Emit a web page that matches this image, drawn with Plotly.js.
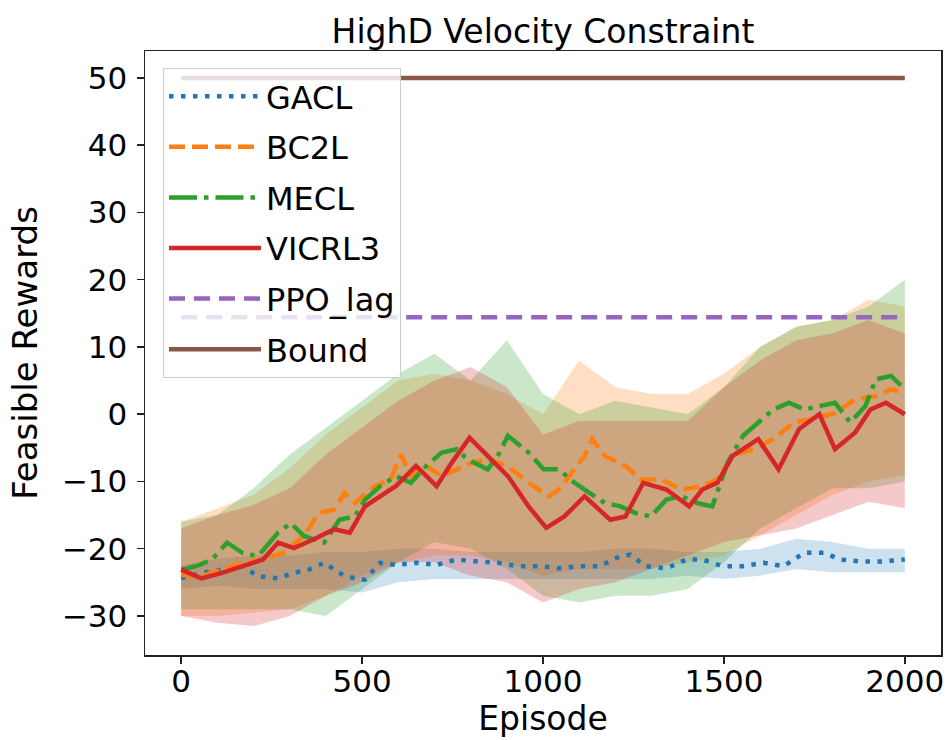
<!DOCTYPE html>
<html>
<head>
<meta charset="utf-8">
<script src="https://cdn.plot.ly/plotly-3.0.1.min.js"></script>
<style>html,body{margin:0;padding:0;background:#fff;}#chart{width:952px;height:740px;}</style>
</head>
<body>
<div id="chart"></div>
<script>
// ---- data ----
var gaclX = [0,56,113,169,212,268,311,353,395,452,508,550,593,649,706,762,819,875,932,988,1044,1101,1157,1214,1242,1284,1341,1397,1440,1496,1552,1609,1665,1722,1778,1821,1877,1933,2000];
var gaclY = [-24.4,-23.6,-23.1,-22.6,-24.1,-24.4,-23.6,-23.1,-22.1,-24.1,-24.6,-22.1,-22.4,-22.1,-22.4,-21.6,-21.9,-22.1,-22.6,-22.6,-22.9,-22.6,-22.6,-21.1,-20.9,-22.6,-22.9,-21.6,-21.6,-22.6,-22.6,-22.1,-22.6,-20.6,-20.6,-21.6,-21.9,-21.9,-21.6];

var bc2lX = [0,56,113,169,226,282,339,381,423,452,480,536,579,607,635,677,720,762,804,847,903,960,1016,1044,1073,1115,1136,1171,1228,1270,1327,1383,1440,1482,1524,1581,1637,1694,1750,1807,1863,1920,1962,2000];
var bc2lY = [-23.9,-24.1,-23.1,-22.1,-21.6,-20.6,-18.1,-14.7,-14.2,-11.7,-13.2,-10.7,-9.7,-6.0,-9.2,-7.7,-9.2,-8.2,-7.2,-6.7,-7.7,-10.2,-12.2,-11.2,-9.2,-6.2,-3.7,-6.2,-7.7,-9.7,-9.7,-11.2,-10.7,-9.7,-6.2,-5.2,-3.7,-1.2,-0.7,0.2,2.2,2.7,3.7,3.2];

var meclX = [0,42,85,127,169,212,268,303,339,395,437,480,508,550,593,635,677,720,762,790,847,875,903,960,1002,1044,1087,1129,1171,1214,1256,1298,1341,1383,1426,1468,1510,1553,1595,1637,1680,1722,1764,1807,1849,1891,1920,1962,2000];
var meclY = [-23.1,-22.6,-21.6,-19.1,-20.6,-21.1,-17.6,-16.2,-18.1,-19.1,-15.7,-15.2,-12.7,-10.7,-9.2,-10.2,-7.7,-5.7,-5.2,-6.7,-8.2,-6.2,-3.2,-5.7,-8.2,-8.2,-10.2,-11.7,-13.2,-13.7,-14.7,-15.2,-12.7,-12.2,-13.2,-13.7,-7.2,-3.2,-1.2,0.7,1.7,0.7,1.2,1.7,-1.2,1.2,5.2,5.7,3.7];

var vicrlX = [0,56,113,169,226,268,311,367,423,466,508,550,593,649,706,748,797,847,903,960,1009,1059,1115,1186,1228,1277,1341,1404,1440,1482,1524,1595,1651,1708,1764,1807,1863,1905,1948,2000];
var vicrlY = [-23.1,-24.4,-23.6,-22.6,-21.6,-19.1,-19.9,-18.6,-17.1,-17.6,-13.7,-12.2,-10.7,-7.7,-10.7,-7.2,-3.5,-6.2,-9.2,-13.7,-16.9,-15.2,-12.2,-15.7,-15.2,-10.2,-11.2,-13.7,-11.2,-10.2,-6.2,-3.7,-8.2,-2.2,0,-5.2,-2.7,0.7,1.7,0];

// shaded bands (every 100 episodes)
var bandX = [0,100,200,300,400,500,600,700,800,900,1000,1100,1200,1300,1400,1500,1600,1700,1800,1900,2000];
var gaclUp = [-22.5,-21.5,-21,-21,-20.5,-20.5,-20,-20,-20.5,-20.5,-20.5,-20.5,-20,-20,-20.5,-20.5,-20,-18.5,-19,-20,-20];
var gaclLo = [-26,-25.5,-26,-26,-26,-26.5,-25,-24.5,-24.5,-24.5,-24.5,-24.5,-24.5,-24.5,-24,-24.5,-24,-23,-23.5,-23.5,-23.5];
var bc2lUp = [-16,-14,-12,-8,-3,1,5,6,5,3,0,8,4,3,3,6,10,13,14,17,16];
var bc2lLo = [-30,-30,-29.5,-29,-27,-24,-22,-21,-21,-22,-24,-23,-23,-23,-22,-21,-18,-15,-12,-10,-9];
var meclUp = [-16,-15,-11,-6,-2,2,6,9,5,11,3,0,2,1,0,4,10,13,14,16,20];
var meclLo = [-29,-29,-29,-29,-30,-26,-22,-19,-20,-23,-27,-28,-27,-27,-26,-22,-17,-14,-11,-11,-10];
var vicrlUp = [-17,-15,-13.5,-11,-6,-2,2,5,7,4,-3,-1,-1,-1,-1,4,8,11,12,14,12];
var vicrlLo = [-30,-31,-31.5,-30,-27,-25,-22,-22,-24,-25,-28,-26,-25,-23,-21,-19,-18,-17,-15,-13,-14];

var refX = [0, 2000];
var ppoY = [14.4, 14.4];
var boundY = [50, 50];

var names = ['GACL','BC2L','MECL','VICRL3','PPO_lag','Bound'];
var colors = ['#1f77b4','#ff7f0e','#2ca02c','#d62728','#9467bd','#8c564b'];
var fills = ['rgba(31,119,180,0.22)','rgba(255,127,14,0.25)','rgba(44,160,44,0.25)','rgba(214,39,40,0.25)'];

// ---- traces ----
var traces = [];
var bands = [[gaclLo,gaclUp],[bc2lLo,bc2lUp],[meclLo,meclUp],[vicrlLo,vicrlUp]];
bands.forEach(function(b, i){
  traces.push({x: bandX, y: b[0], mode:'lines', line:{width:0, color:fills[i]}, showlegend:false, hoverinfo:'skip', legendgroup:'band'+i});
  traces.push({x: bandX, y: b[1], mode:'lines', line:{width:0, color:fills[i]}, fill:'tonexty', fillcolor:fills[i], showlegend:false, hoverinfo:'skip', legendgroup:'band'+i});
});
var W = 4.5;
var series = [
  {x: gaclX, y: gaclY, dash:'4.5px,7.5px'},
  {x: bc2lX, y: bc2lY, dash:'16px,7px'},
  {x: meclX, y: meclY, dash:'28px,7px,4.5px,7px'},
  {x: vicrlX, y: vicrlY, dash:'solid'},
  {x: refX, y: ppoY, dash:'16px,9px'},
  {x: refX, y: boundY, dash:'solid'}
];
series.forEach(function(s, i){
  traces.push({x: s.x, y: s.y, mode:'lines', name: names[i], legendgroup: names[i],
    line:{color: colors[i], width: W, dash: s.dash}});
});

var layout = {
  width: 952, height: 740,
  paper_bgcolor:'#ffffff', plot_bgcolor:'#ffffff',
  font:{family:'DejaVu Sans', color:'#000000', size:31},
  margin:{l:145, r:11, t:51, b:85, pad:0},
  title:{text:'HighD Velocity Constraint', font:{size:33, family:'DejaVu Sans', color:'#000'}, x:0.5, xref:'paper', xanchor:'center', y:0.958, yref:'container', yanchor:'middle'},
  xaxis:{range:[-100,2100], tickvals:[0,500,1000,1500,2000], ticktext:['0','500','1000','1500','2000'],
    showgrid:false, zeroline:false, showline:true, mirror:true, linecolor:'#222', linewidth:1.5,
    ticks:'outside', ticklen:7, tickwidth:1.5, tickcolor:'#222', tickfont:{size:31}, ticklabelstandoff:-9,
    title:{text:'Episode', font:{size:33}, standoff:8}},
  yaxis:{range:[-35.8,54.0], tickvals:[-30,-20,-10,0,10,20,30,40,50],
    showgrid:false, zeroline:false, showline:true, mirror:true, linecolor:'#222', linewidth:1.5,
    ticks:'outside', ticklen:7, tickwidth:1.5, tickcolor:'#222', tickfont:{size:31}, ticklabelstandoff:3,
    title:{text:'Feasible Rewards', font:{size:34}, standoff:14}},
  showlegend:true,
  legend:{x:0.0226, y:0.972, xanchor:'left', yanchor:'top', xref:'paper', yref:'paper',
    bgcolor:'rgba(255,255,255,0.8)', bordercolor:'#cccccc', borderwidth:1,
    font:{size:32}, itemwidth:92, tracegroupgap:6, traceorder:'grouped'}
};

Plotly.newPlot('chart', traces, layout, {staticPlot:true, displayModeBar:false});
</script>
</body>
</html>
